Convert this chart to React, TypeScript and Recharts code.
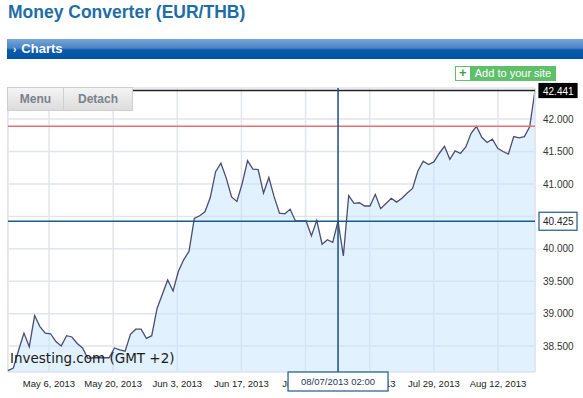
import React from 'react';
import {
  ComposedChart,
  Area,
  Line,
  XAxis,
  YAxis,
  CartesianGrid,
  ReferenceLine,
} from 'recharts';

// EUR/THB daily closes (index = trading day)
const rates = [
  38.12, 38.16, 38.44, 38.7, 38.49, 38.97, 38.8, 38.7, 38.69, 38.57,
  38.5, 38.66, 38.64, 38.54, 38.47, 38.31, 38.32, 38.32, 38.32, 38.32,
  38.47, 38.44, 38.42, 38.68, 38.76, 38.76, 38.62, 38.66, 39.08, 39.3,
  39.52, 39.35, 39.65, 39.83, 39.96, 40.47, 40.51, 40.57, 40.79, 41.19,
  41.32, 41.09, 40.8, 40.73, 41.01, 41.36, 41.23, 41.22, 40.86, 41.1,
  40.8, 40.55, 40.54, 40.61, 40.43, 40.43, 40.43, 40.2, 40.44, 40.07,
  40.14, 40.1, 40.425, 39.89, 40.82, 40.7, 40.71, 40.66, 40.66, 40.84,
  40.62, 40.7, 40.78, 40.72, 40.78, 40.86, 40.93, 41.2, 41.35, 41.3,
  41.34, 41.47, 41.58, 41.38, 41.51, 41.47, 41.57, 41.78, 41.89, 41.72,
  41.64, 41.69, 41.55, 41.5, 41.46, 41.73, 41.71, 41.73, 41.88, 42.441,
];

const dateTicks = [7.7, 19.75, 31.8, 43.85, 55.9, 67.95, 80.0, 92.05];
const dateLabels = [
  'May 6, 2013',
  'May 20, 2013',
  'Jun 3, 2013',
  'Jun 17, 2013',
  'Jul 1, 2013',
  'Jul 15, 2013',
  'Jul 29, 2013',
  'Aug 12, 2013',
];
const priceTicks = [38.5, 39, 39.5, 40, 40.5, 41, 41.5, 42];

const lastRate = 42.441;
const highRate = 41.89;
const cursorRate = 40.425;
const cursorIdx = 62;
const cursorDate = '08/07/2013 02:00';

const data = rates.map((v, i) => ({ i, v }));
const xDomain = [0, rates.length - 1];
const yDomain = [38.1, 42.48];

const font = 'Arial, "Liberation Sans", sans-serif';

function PriceTag(props: any) {
  const { viewBox, text, dark } = props;
  const bx = viewBox.x + viewBox.width + 4;
  const y = viewBox.y;
  return (
    <g>
      <rect
        x={bx}
        y={dark ? y - 7 : y - 9}
        width={38}
        height={dark ? 14 : 18}
        fill={dark ? '#000' : '#fff'}
        stroke={dark ? '#000' : '#1b5b8c'}
        strokeWidth={1.2}
      />
      <text x={bx + 4} y={y + 4} fontSize={10} fontFamily={font} fill={dark ? '#fff' : '#222'}>
        {text}
      </text>
    </g>
  );
}

function DateTag(props: any) {
  const { viewBox } = props;
  const cx = viewBox.x;
  const bottom = viewBox.y + viewBox.height;
  return (
    <g>
      <rect x={cx - 50} y={bottom} width={100} height={19} fill="#fff" stroke="#1b5b8c" strokeWidth={1.2} />
      <text x={cx} y={bottom + 13} textAnchor="middle" fontSize={9.5} fontFamily={font} fill="#2b3a5c">
        {cursorDate}
      </text>
    </g>
  );
}

const btn: React.CSSProperties = {
  position: 'absolute',
  top: 87,
  height: 24,
  background: 'linear-gradient(#f4f4f4, #dcdcdc)',
  border: '1px solid #cfcfcf',
  color: '#7a828c',
  fontFamily: font,
  fontWeight: 'bold',
  fontSize: 12,
  lineHeight: '23px',
  textAlign: 'center',
  boxSizing: 'border-box',
};

export default function App() {
  return (
    <div style={{ position: 'fixed', left: 0, top: 0, width: 583, height: 398, background: '#fff', overflow: 'hidden' }}>
      <div
        style={{
          position: 'absolute',
          left: 8,
          top: 2,
          fontFamily: font,
          fontWeight: 'bold',
          fontSize: 17.5,
          color: '#1d6ea7',
        }}
      >
        Money Converter (EUR/THB)
      </div>
      <div
        style={{
          position: 'absolute',
          left: 7,
          top: 39,
          width: 576,
          height: 20,
          background: 'linear-gradient(#78a5d9 0%, #4b84c5 45%, #0a5aab 55%, #0055a4 100%)',
          color: '#fff',
          fontFamily: font,
          fontWeight: 'bold',
          fontSize: 13,
          lineHeight: '19px',
        }}
      >
        <span style={{ marginLeft: 6, fontSize: 10, marginRight: 5 }}>›</span>Charts
      </div>
      <div
        style={{
          position: 'absolute',
          left: 455,
          top: 66,
          width: 100,
          height: 15,
          border: '1px solid #5fbf6a',
          boxSizing: 'border-box',
          background: '#fff',
          fontFamily: font,
        }}
      >
        <span style={{ position: 'absolute', left: 3, top: -2, color: '#3f9e4a', fontWeight: 'bold', fontSize: 13 }}>+</span>
        <div
          style={{
            position: 'absolute',
            left: 14,
            top: -1,
            width: 86,
            height: 15,
            background: '#5fbf6a',
            color: '#fff',
            fontSize: 11,
            lineHeight: '14px',
            textAlign: 'center',
          }}
        >
          Add to your site
        </div>
      </div>

      <div style={{ position: 'absolute', left: 7, top: 88, width: 1, height: 284, background: '#dfe1e8' }} />

      <div style={{ position: 'absolute', left: 0, top: 0 }}>
        <ComposedChart width={583} height={398} data={data} margin={{ top: 88, right: 0, bottom: 0, left: 8 }}>
          <CartesianGrid stroke="#e3e5ec" strokeWidth={1.5} />
          <XAxis
            dataKey="i"
            type="number"
            domain={xDomain}
            ticks={dateTicks}
            tickFormatter={(t: number) => dateLabels[dateTicks.indexOf(t)] ?? ''}
            interval={0}
            height={26}
            axisLine={false}
            tickLine={false}
            tick={{ fontSize: 9.5, fill: '#222', fontFamily: font }}
          />
          <YAxis
            orientation="right"
            width={48}
            domain={yDomain}
            ticks={priceTicks}
            tickFormatter={(v: number) => v.toFixed(3)}
            axisLine={{ stroke: '#e3e5ec', strokeWidth: 1.5 }}
            tickLine={false}
            tick={{ fontSize: 10, fill: '#333', fontFamily: font }}
          />
          <Area
            type="linear"
            dataKey="v"
            stroke="#4a4e70"
            strokeWidth={1.3}
            fill="#c3e3fb"
            fillOpacity={0.5}
            isAnimationActive={false}
          />
        </ComposedChart>
      </div>

      {/* overlay with the same scales so the markers sit above the axis labels */}
      <div style={{ position: 'absolute', left: 0, top: 0 }}>
        <ComposedChart width={583} height={398} data={data} margin={{ top: 88, right: 0, bottom: 0, left: 8 }}>
          <XAxis dataKey="i" type="number" domain={xDomain} height={26} tick={false} axisLine={false} tickLine={false} />
          <YAxis
            orientation="right"
            width={48}
            domain={yDomain}
            tick={false}
            axisLine={false}
            tickLine={false}
          />
          <Line dataKey="v" stroke="none" dot={false} activeDot={false} isAnimationActive={false} />
          <ReferenceLine y={highRate} stroke="#e57373" strokeWidth={1.5} />
          <ReferenceLine
            y={lastRate}
            stroke="#222"
            strokeWidth={1.5}
            label={(p: any) => <PriceTag {...p} text={lastRate.toFixed(3)} dark />}
          />
          <ReferenceLine
            y={cursorRate}
            stroke="#1b5b8c"
            strokeWidth={1.5}
            label={(p: any) => <PriceTag {...p} text={cursorRate.toFixed(3)} />}
          />
          <ReferenceLine x={cursorIdx} stroke="#1b4f80" strokeWidth={1.5} label={(p: any) => <DateTag {...p} />} />
        </ComposedChart>
      </div>

      <div style={{ ...btn, left: 7, width: 57 }}>Menu</div>
      <div style={{ ...btn, left: 63, width: 70 }}>Detach</div>
      <div
        style={{
          position: 'absolute',
          left: 10,
          top: 350,
          fontFamily: '"DejaVu Sans", Verdana, sans-serif',
          fontSize: 13.5,
          color: '#1a1a1a',
        }}
      >
        Investing.com (GMT +2)
      </div>
    </div>
  );
}
